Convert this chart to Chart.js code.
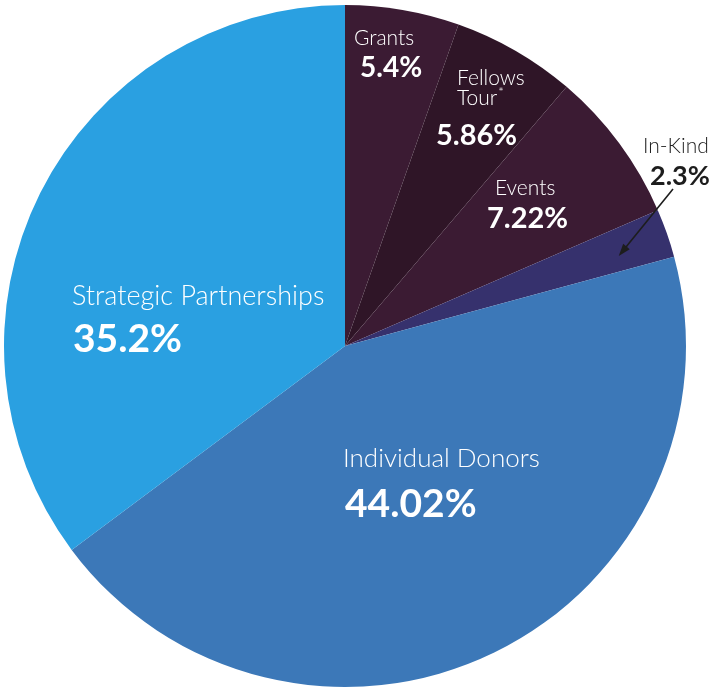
<!DOCTYPE html>
<html>
<head>
<meta charset="utf-8">
<script src="https://cdn.jsdelivr.net/npm/chart.js@4"></script>
<style>
  html, body { margin: 0; padding: 0; background: #fff; }
  #wrap { width: 713px; height: 690px; }
</style>
</head>
<body>
<div id="wrap"><canvas id="pie" width="713" height="690"></canvas></div>
<script>
// Revenue split, clockwise from 12 o'clock
const categories = ["Grants", "Fellows Tour*", "Events", "In-Kind", "Individual Donors", "Strategic Partnerships"];
const shares = [5.4, 5.86, 7.22, 2.3, 44.02, 35.2];
const pctLabels = ["5.4%", "5.86%", "7.22%", "2.3%", "44.02%", "35.2%"];
const sliceColors = ["#3b1b33", "#2f1527", "#3b1b33", "#36316d", "#3c78b8", "#2aa0e1"];

// text placement, offsets from pie centre in px at radius 341
const labelSpots = [
  { name: [["Grants", 9, -301]], pct: [15, -269], nameSize: 21, pctSize: 28, color: "#fff" },
  { name: [["Fellows", 112, -261], ["Tour", 112, -241]], star: true, pct: [91, -201], nameSize: 21, pctSize: 29, color: "#fff" },
  { name: [["Events", 150, -151]], pct: [142, -118], nameSize: 21, pctSize: 29, color: "#fff" },
  { name: [["In-Kind", 298, -193]], pct: [305, -161], nameSize: 21, pctSize: 27, color: "#1d1d1d" },
  { name: [["Individual Donors", -2, 121]], pct: [0, 171], nameSize: 26, pctSize: 39, color: "#fff" },
  { name: [["Strategic Partnerships", -273, -41]], pct: [-272, 6], nameSize: 27, pctSize: 39, color: "#fff" }
];

const pieLabels = {
  id: "pieLabels",
  afterDatasetsDraw(chart) {
    const ctx = chart.ctx;
    const arcs = chart.getDatasetMeta(0).data;
    const cx = arcs[0].x, cy = arcs[0].y;
    const k = arcs[0].outerRadius / 341;
    ctx.save();
    ctx.textAlign = "left";
    ctx.textBaseline = "alphabetic";
    labelSpots.forEach((s, i) => {
      ctx.fillStyle = s.color;
      ctx.font = "300 " + s.nameSize + "px Lato";
      s.name.forEach(([t, dx, dy]) => {
        ctx.fillText(t, cx + dx * k, cy + dy * k);
        if (s.star && t === "Tour") {
          const w = ctx.measureText(t).width;
          ctx.font = "300 13px Lato";
          ctx.fillText("*", cx + dx * k + w + 1, cy + dy * k - 8);
          ctx.font = "300 " + s.nameSize + "px Lato";
        }
      });
      ctx.font = "700 " + s.pctSize + "px Lato";
      ctx.fillText(pctLabels[i], cx + s.pct[0] * k, cy + s.pct[1] * k);
    });

    // arrow from the In-Kind label into its thin slice
    const a = arcs[3];
    const mid = (a.startAngle + a.endAngle) / 2 + 0.02;
    const tx = a.x + Math.cos(mid) * a.outerRadius * 0.845;
    const ty = a.y + Math.sin(mid) * a.outerRadius * 0.845;
    const sx = cx + 328 * k, sy = cy - 157 * k;
    const ang = Math.atan2(ty - sy, tx - sx);
    ctx.strokeStyle = "#1d1d1d";
    ctx.fillStyle = "#1d1d1d";
    ctx.lineWidth = 1.6;
    ctx.beginPath();
    ctx.moveTo(sx, sy);
    ctx.lineTo(tx - Math.cos(ang) * 8, ty - Math.sin(ang) * 8);
    ctx.stroke();
    ctx.beginPath();
    ctx.moveTo(tx, ty);
    ctx.lineTo(tx - Math.cos(ang - 0.33) * 13, ty - Math.sin(ang - 0.33) * 13);
    ctx.lineTo(tx - Math.cos(ang + 0.33) * 13, ty - Math.sin(ang + 0.33) * 13);
    ctx.closePath();
    ctx.fill();
    ctx.restore();
  }
};

new Chart(document.getElementById("pie"), {
  type: "pie",
  data: {
    labels: categories,
    datasets: [{
      data: shares,
      backgroundColor: sliceColors,
      borderWidth: 0,
      hoverOffset: 0
    }]
  },
  options: {
    responsive: false,
    animation: false,
    layout: { padding: { left: 4, right: 27, top: 5, bottom: 3 } },
    plugins: {
      legend: { display: false },
      tooltip: { enabled: false }
    }
  },
  plugins: [pieLabels]
});
</script>
</body>
</html>
